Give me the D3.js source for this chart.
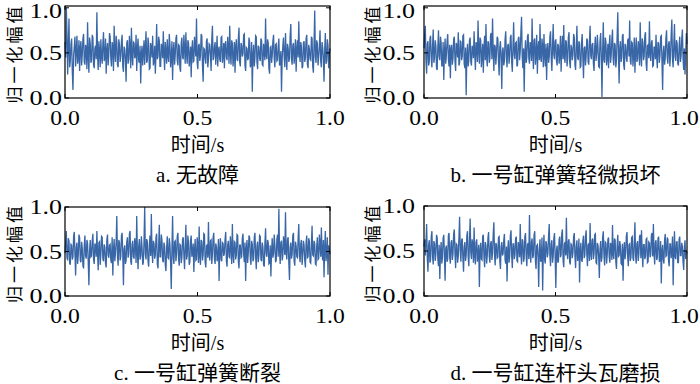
<!DOCTYPE html>
<html><head><meta charset="utf-8">
<script src="https://cdn.jsdelivr.net/npm/d3@7"></script>
<style>
html,body{margin:0;padding:0;background:#fff;}
svg{display:block;}
</style></head>
<body>
<svg id="chart" width="700" height="384"></svg>
<script>
const xTicks = [0, 0.5, 1.0];
const yTicks = [0, 0.5, 1.0];
const xTickLabels = ["0.0", "0.5", "1.0"];
const yTickLabels = ["0.0", "0.5", "1.0"];
const yTitle = "归一化幅值";
const xTitle = "时间/s";
const captions = ["a. 无故障", "b. 一号缸弹簧轻微损坏", "c. 一号缸弹簧断裂", "d. 一号缸连杆头瓦磨损"];

const seriesA = [
0.62,0.45,1.00,0.71,0.26,0.58,0.88,0.34,0.41,0.60,0.66,0.29,0.09,0.47,0.57,0.68,0.35,0.52,0.69,0.38,0.44,0.64,0.30,0.56,0.63,0.36,0.48,0.66,0.71,0.40,0.37,0.59,0.55,0.32,0.84,0.46,0.28,0.67,0.60,0.39,
0.42,0.70,0.67,0.37,0.33,0.55,0.58,0.43,0.95,0.48,0.31,0.63,0.52,0.34,0.65,0.46,0.38,0.60,0.73,0.41,0.45,0.66,0.27,0.53,0.61,0.36,0.49,0.72,0.68,0.44,0.35,0.62,0.56,0.30,0.80,0.51,0.40,0.69,0.62,0.37,
0.34,0.65,0.59,0.40,0.46,0.63,0.70,0.35,0.29,0.57,0.54,0.42,0.18,0.61,0.64,0.38,0.43,0.69,0.57,0.33,0.78,0.47,0.36,0.62,0.61,0.44,0.47,0.70,0.30,0.55,0.66,0.41,0.39,0.58,0.16,0.49,0.58,0.36,0.50,0.64,
0.37,0.56,0.74,0.39,0.42,0.67,0.60,0.32,0.33,0.61,0.55,0.45,0.69,0.36,0.41,0.58,0.27,0.50,0.82,0.43,0.46,0.68,0.63,0.35,0.35,0.60,0.57,0.44,0.74,0.48,0.31,0.62,0.52,0.38,0.65,0.47,0.40,0.71,0.59,0.34,
0.44,0.63,0.20,0.52,0.62,0.37,0.48,0.66,0.70,0.42,0.36,0.59,0.58,0.33,0.29,0.61,0.67,0.45,0.43,0.70,0.55,0.38,0.73,0.49,0.38,0.64,0.61,0.35,0.45,0.57,0.23,0.54,0.64,0.40,0.41,0.68,0.56,0.46,0.88,0.39,
0.32,0.58,0.60,0.41,0.47,0.71,0.69,0.36,0.18,0.55,0.54,0.44,0.38,0.63,0.66,0.34,0.43,0.60,0.59,0.47,0.30,0.65,0.80,0.42,0.45,0.57,0.62,0.37,0.51,0.69,0.35,0.53,0.57,0.43,0.40,0.67,0.68,0.39,0.47,0.61,
0.33,0.59,0.63,0.45,0.42,0.68,0.56,0.38,0.80,0.50,0.37,0.64,0.60,0.35,0.46,0.62,0.28,0.57,0.65,0.43,0.41,0.66,0.78,0.40,0.35,0.61,0.58,0.46,0.49,0.70,0.71,0.36,0.30,0.56,0.55,0.42,0.44,0.67,0.62,0.34,
0.38,0.62,0.07,0.48,0.59,0.35,0.45,0.69,0.68,0.40,0.32,0.58,0.56,0.44,0.41,0.66,0.64,0.37,0.36,0.60,0.52,0.42,0.88,0.47,0.43,0.65,0.61,0.33,0.27,0.56,0.57,0.39,0.47,0.63,0.70,0.45,0.34,0.59,0.60,0.41,
0.42,0.57,0.66,0.36,0.39,0.52,0.07,0.44,0.58,0.67,0.46,0.34,0.72,0.48,0.31,0.60,0.55,0.40,0.44,0.69,0.82,0.43,0.37,0.58,0.61,0.38,0.48,0.65,0.29,0.54,0.64,0.45,0.85,0.50,0.40,0.62,0.57,0.33,0.35,0.61,
0.63,0.40,0.45,0.66,0.70,0.37,0.33,0.59,0.54,0.43,0.42,0.68,0.66,0.35,0.28,0.61,0.97,0.46,0.39,0.64,0.60,0.36,0.46,0.57,0.75,0.41,0.34,0.62,0.56,0.44,0.18,0.53,0.72,0.38,0.41,0.65,0.58,0.33,0.50,0.55];

const seriesB = [
0.55,0.70,0.80,0.41,0.27,0.60,0.63,0.36,0.40,0.66,0.69,0.44,0.34,0.58,0.76,0.39,0.45,0.64,0.58,0.33,0.31,0.57,0.75,0.46,0.42,0.68,0.61,0.35,0.37,0.62,0.20,0.50,0.66,0.38,0.48,0.63,0.71,0.43,0.35,0.59,
0.22,0.54,0.59,0.37,0.44,0.65,0.68,0.41,0.30,0.61,0.57,0.45,0.73,0.36,0.39,0.63,0.62,0.42,0.46,0.69,0.70,0.38,0.33,0.56,0.03,0.47,0.60,0.35,0.42,0.64,0.67,0.40,0.36,0.58,0.55,0.44,0.74,0.49,0.31,0.62,
0.58,0.40,0.86,0.53,0.38,0.67,0.64,0.34,0.47,0.60,0.28,0.55,0.69,0.42,0.82,0.46,0.35,0.63,0.61,0.39,0.44,0.70,0.72,0.43,0.88,0.51,0.30,0.59,0.57,0.37,0.49,0.68,0.66,0.41,0.25,0.56,0.63,0.44,0.10,0.52,
0.56,0.36,0.41,0.65,0.74,0.45,0.34,0.58,0.60,0.38,0.46,0.67,0.70,0.40,0.29,0.57,0.84,0.48,0.43,0.61,0.62,0.35,0.37,0.66,0.68,0.42,0.52,0.73,0.90,0.46,0.33,0.55,0.07,0.49,0.64,0.39,0.45,0.68,0.71,0.44,
0.38,0.62,0.59,0.41,0.88,0.50,0.32,0.64,0.66,0.37,0.48,0.70,0.27,0.55,0.63,0.42,0.82,0.45,0.40,0.66,0.57,0.34,0.71,0.47,0.35,0.60,0.20,0.53,0.61,0.39,0.46,0.68,0.74,0.44,0.30,0.58,0.82,0.48,0.43,0.63,
0.65,0.41,0.36,0.60,0.58,0.38,0.47,0.69,0.29,0.54,0.69,0.43,0.81,0.46,0.39,0.64,0.62,0.35,0.44,0.67,0.73,0.40,0.33,0.59,0.56,0.42,0.48,0.71,0.67,0.37,0.31,0.57,0.80,0.45,0.42,0.63,0.60,0.34,0.35,0.61,
0.71,0.44,0.22,0.55,0.57,0.36,0.46,0.66,0.64,0.40,0.37,0.62,0.80,0.47,0.43,0.59,0.61,0.38,0.30,0.57,0.68,0.41,0.49,0.70,0.56,0.35,0.34,0.63,0.72,0.45,0.01,0.51,0.84,0.42,0.39,0.67,0.62,0.36,0.45,0.60,
0.33,0.58,0.70,0.39,0.47,0.65,0.76,0.43,0.36,0.61,0.59,0.34,0.42,0.68,0.95,0.50,0.16,0.56,0.63,0.40,0.45,0.69,0.71,0.37,0.31,0.60,0.58,0.44,0.40,0.64,0.66,0.46,0.86,0.41,0.37,0.62,0.61,0.35,0.48,0.67,
0.28,0.53,0.67,0.40,0.43,0.63,0.57,0.36,0.84,0.48,0.35,0.66,0.62,0.42,0.46,0.69,0.73,0.38,0.30,0.58,0.59,0.44,0.85,0.49,0.41,0.61,0.64,0.35,0.36,0.57,0.55,0.43,0.70,0.46,0.33,0.62,0.60,0.39,0.47,0.68,
0.69,0.42,0.09,0.51,0.58,0.37,0.44,0.66,0.75,0.45,0.38,0.60,0.63,0.35,0.47,0.70,0.87,0.43,0.34,0.59,0.82,0.46,0.41,0.64,0.61,0.38,0.36,0.57,0.68,0.40,0.46,0.65,0.76,0.44,0.31,0.55,0.26,0.49,0.72,0.60];

const seriesC = [
0.48,0.60,0.73,0.43,0.40,0.65,0.62,0.37,0.35,0.58,0.57,0.41,0.44,0.67,0.72,0.46,0.23,0.55,0.60,0.36,0.46,0.69,0.66,0.40,0.38,0.61,0.54,0.34,0.31,0.57,0.68,0.45,0.42,0.63,0.59,0.38,0.12,0.50,0.63,0.44,
0.45,0.62,0.70,0.41,0.36,0.59,0.56,0.44,0.73,0.48,0.29,0.60,0.61,0.35,0.47,0.67,0.66,0.42,0.39,0.58,0.55,0.37,0.32,0.63,0.69,0.46,0.43,0.57,0.58,0.40,0.37,0.66,0.23,0.52,0.64,0.39,0.48,0.61,0.90,0.45,
0.34,0.63,0.60,0.40,0.44,0.68,0.71,0.47,0.12,0.53,0.57,0.36,0.40,0.61,0.66,0.43,0.47,0.70,0.73,0.39,0.35,0.58,0.62,0.44,0.42,0.65,0.58,0.37,0.90,0.49,0.30,0.56,0.64,0.41,0.45,0.67,0.55,0.35,0.38,0.62,
1.00,0.47,0.41,0.64,0.61,0.39,0.33,0.57,0.68,0.45,0.92,0.50,0.37,0.62,0.59,0.42,0.46,0.66,0.70,0.36,0.31,0.56,0.80,0.44,0.44,0.69,0.63,0.40,0.38,0.60,0.56,0.35,0.28,0.54,0.67,0.43,0.42,0.65,0.58,0.38,
0.08,0.52,0.90,0.44,0.36,0.61,0.62,0.39,0.47,0.67,0.71,0.42,0.34,0.58,0.57,0.37,0.43,0.64,0.66,0.46,0.30,0.55,0.80,0.41,0.45,0.68,0.60,0.35,0.38,0.62,0.68,0.44,0.49,0.59,0.27,0.51,0.64,0.40,0.41,0.66,
0.57,0.37,0.78,0.45,0.35,0.63,0.61,0.40,0.46,0.70,0.69,0.38,0.32,0.56,0.58,0.43,0.83,0.47,0.40,0.62,0.63,0.36,0.47,0.66,0.71,0.42,0.36,0.59,0.55,0.39,0.44,0.64,0.17,0.53,0.65,0.41,0.39,0.60,0.59,0.45,
0.48,0.64,0.72,0.40,0.33,0.58,0.62,0.44,0.43,0.67,0.56,0.36,0.81,0.46,0.37,0.61,0.60,0.41,0.46,0.69,0.68,0.39,0.31,0.57,0.57,0.43,0.44,0.65,0.70,0.47,0.38,0.60,0.17,0.52,0.63,0.37,0.49,0.68,0.66,0.42,
0.35,0.62,0.58,0.39,0.42,0.66,0.71,0.45,0.30,0.56,0.61,0.38,0.46,0.68,0.67,0.41,0.39,0.60,0.55,0.35,0.33,0.59,0.76,0.47,0.44,0.63,0.60,0.36,0.37,0.57,0.22,0.50,0.65,0.43,0.48,0.69,0.57,0.38,0.40,0.64,
0.69,0.44,0.98,0.52,0.36,0.60,0.62,0.40,0.45,0.67,0.58,0.46,0.94,0.49,0.41,0.63,0.66,0.37,0.18,0.55,0.60,0.42,0.47,0.68,0.71,0.39,0.34,0.61,0.56,0.44,0.43,0.65,0.81,0.45,0.38,0.59,0.63,0.35,0.46,0.62,
0.57,0.40,0.32,0.60,0.68,0.43,0.44,0.65,0.61,0.38,0.37,0.58,0.79,0.46,0.45,0.62,0.59,0.36,0.35,0.56,0.66,0.41,0.42,0.69,0.58,0.44,0.77,0.48,0.40,0.63,0.21,0.54,0.73,0.39,0.47,0.66,0.24,0.57,0.52,0.47];

const seriesD = [
0.55,0.63,0.45,0.60,0.80,0.42,0.27,0.56,0.62,0.37,0.40,0.66,0.72,0.44,0.35,0.61,0.58,0.39,0.46,0.68,0.65,0.41,0.33,0.57,0.19,0.48,0.60,0.36,0.43,0.64,0.68,0.45,0.17,0.53,0.56,0.38,0.41,0.67,0.70,0.43,
0.36,0.59,0.62,0.40,0.47,0.69,0.74,0.46,0.31,0.58,0.57,0.37,0.44,0.65,0.88,0.50,0.38,0.62,0.64,0.42,0.27,0.55,0.60,0.39,0.45,0.67,0.72,0.44,0.33,0.61,0.86,0.48,0.41,0.63,0.58,0.37,0.76,0.45,0.35,0.60,
0.63,0.38,0.46,0.57,0.10,0.49,0.59,0.41,0.40,0.66,0.68,0.43,0.32,0.60,0.56,0.36,0.45,0.64,0.71,0.44,0.37,0.58,0.61,0.40,0.48,0.69,0.82,0.46,0.34,0.59,0.57,0.42,0.43,0.65,0.66,0.39,0.30,0.55,0.60,0.45,
0.47,0.62,0.69,0.40,0.36,0.55,0.16,0.50,0.62,0.37,0.44,0.67,0.73,0.45,0.31,0.58,0.58,0.41,0.46,0.64,0.66,0.39,0.38,0.60,0.54,0.43,0.80,0.47,0.35,0.63,0.61,0.38,0.42,0.66,0.70,0.44,0.33,0.57,0.59,0.41,
0.90,0.48,0.37,0.60,0.64,0.42,0.45,0.68,0.72,0.39,0.30,0.56,0.57,0.44,0.10,0.52,0.63,0.38,0.41,0.65,0.06,0.47,0.68,0.40,0.36,0.61,0.58,0.43,0.47,0.67,0.80,0.45,0.33,0.58,0.62,0.37,0.44,0.64,0.70,0.42,
0.09,0.51,0.56,0.37,0.39,0.63,0.66,0.43,0.46,0.69,0.74,0.40,0.32,0.57,0.60,0.45,0.87,0.49,0.41,0.61,0.63,0.38,0.35,0.58,0.57,0.42,0.48,0.66,0.70,0.44,0.31,0.55,0.62,0.39,0.44,0.64,0.15,0.50,0.59,0.40,
0.38,0.61,0.67,0.42,0.45,0.66,0.73,0.47,0.33,0.57,0.58,0.39,0.81,0.48,0.40,0.62,0.64,0.41,0.47,0.68,0.69,0.37,0.36,0.59,0.56,0.44,0.20,0.52,0.61,0.38,0.43,0.65,0.72,0.45,0.34,0.60,0.59,0.36,0.46,0.63,
0.65,0.43,0.37,0.59,0.57,0.40,0.79,0.46,0.41,0.64,0.62,0.38,0.30,0.56,0.68,0.44,0.45,0.61,0.55,0.36,0.35,0.58,0.17,0.49,0.60,0.41,0.48,0.67,0.71,0.43,0.33,0.57,0.58,0.39,0.43,0.65,0.66,0.42,0.39,0.60,
0.82,0.45,0.36,0.58,0.61,0.39,0.47,0.66,0.68,0.42,0.73,0.48,0.32,0.57,0.57,0.41,0.44,0.63,0.64,0.37,0.38,0.60,0.59,0.43,0.46,0.68,0.70,0.44,0.80,0.47,0.35,0.59,0.62,0.40,0.43,0.64,0.66,0.38,0.40,0.61,
0.14,0.50,0.57,0.40,0.36,0.62,0.69,0.44,0.45,0.65,0.63,0.39,0.33,0.58,0.58,0.42,0.47,0.66,0.12,0.48,0.72,0.43,0.41,0.60,0.60,0.37,0.37,0.63,0.66,0.45,0.45,0.59,0.55,0.38,0.29,0.54,0.62,0.41,0.50,0.47];

const allSeries = [seriesA, seriesB, seriesC, seriesD];

// layout per panel
const panels = [
  {l:65,  r:330, t:6,   b:98,  yMax:1.02, ytx:62,  ytitleX:21},
  {l:424, r:687, t:6,   b:98,  yMax:1.02, ytx:415, ytitleX:379},
  {l:65,  r:330, t:207, b:296, yMax:1.0,  ytx:62,  ytitleX:21},
  {l:424, r:687, t:206, b:296, yMax:1.0,  ytx:415, ytitleX:379}
];

const W = 700;
const svg = d3.select("#chart");
const color = "#3866a6";
const serif = "'Liberation Serif','Times New Roman','Noto Sans CJK SC',serif";
const sx = 1.18;  // horizontal stretch of reference glyphs (x ticks)
const sy = 1.3;   // y tick labels

panels.forEach((p, k) => {
  const data = allSeries[k];
  const n = data.length;
  const x = d3.scaleLinear().domain([0, 1]).range([p.l, p.r]);
  const y = d3.scaleLinear().domain([0, p.yMax]).range([p.b, p.t]);
  const g = svg.append("g");

  const line = d3.line().x((d, i) => x(i / (n - 1))).y(d => y(d));
  g.append("path").datum(data)
    .attr("d", line)
    .attr("fill", "none")
    .attr("stroke", color)
    .attr("stroke-width", 1.3)
    .attr("stroke-linejoin", "miter");

  g.append("rect").attr("x", p.l).attr("y", p.t)
    .attr("width", p.r - p.l).attr("height", p.b - p.t)
    .attr("fill", "none").attr("stroke", "#000").attr("stroke-width", 1.2);

  const tl = 4;
  xTicks.forEach(v => {
    g.append("line").attr("x1", x(v)).attr("x2", x(v)).attr("y1", p.b).attr("y2", p.b - tl).attr("stroke", "#000");
    g.append("line").attr("x1", x(v)).attr("x2", x(v)).attr("y1", p.t).attr("y2", p.t + tl).attr("stroke", "#000");
  });
  yTicks.forEach(v => {
    g.append("line").attr("x1", p.l).attr("x2", p.l + tl).attr("y1", y(v)).attr("y2", y(v)).attr("stroke", "#000");
    g.append("line").attr("x1", p.r).attr("x2", p.r - tl).attr("y1", y(v)).attr("y2", y(v)).attr("stroke", "#000");
  });

  xTicks.forEach((v, i) => {
    const half = 0.63 * 20 * sx;
    const px = Math.min(x(v), W - half - 1);
    g.append("text")
      .attr("transform", `translate(${px},${p.b + 27}) scale(${sx},1)`)
      .attr("text-anchor", "middle").attr("font-size", 20)
      .attr("font-family", serif).text(xTickLabels[i]);
  });
  yTicks.forEach((v, i) => {
    g.append("text")
      .attr("transform", `translate(${p.ytx},${Math.max(y(v) + 7, 18)}) scale(${sy},1)`)
      .attr("text-anchor", "end").attr("font-size", 20)
      .attr("font-family", serif).text(yTickLabels[i]);
  });

  const cy = (p.t + p.b) / 2;
  g.append("text").attr("transform", `translate(${p.ytitleX},${cy + 1.5}) rotate(-90)`)
    .attr("text-anchor", "middle").attr("font-size", 17)
    .attr("letter-spacing", 3)
    .attr("font-family", "'Noto Sans CJK SC', sans-serif")
    .text(yTitle);

  const cx = (p.l + p.r) / 2;
  g.append("text")
    .attr("transform", `translate(${cx},${p.b + 54})`)
    .attr("text-anchor", "middle").attr("font-size", 20)
    .attr("font-family", serif).text(xTitle);

  g.append("text")
    .attr("transform", `translate(${cx},${p.b + 84})`)
    .attr("text-anchor", "middle").attr("font-size", 21)
    .attr("font-family", serif).text(captions[k]);
});
</script>
</body></html>
